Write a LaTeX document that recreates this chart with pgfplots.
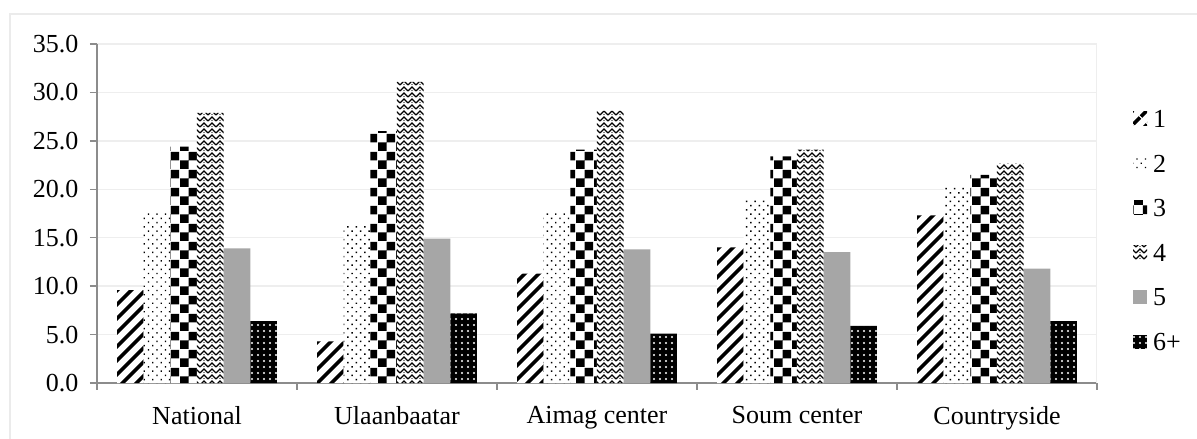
\documentclass[border=0pt]{standalone}
\usepackage{fontspec}
\setmainfont{Liberation Serif}
\usepackage{pgfplots}
\usepackage{pgfplotstable}
\pgfplotsset{compat=1.18}
\usetikzlibrary{patterns,patterns.meta}

\pgfdeclarepattern{
  name=checker,
  type=uncolored,
  bottom left={\pgfpoint{0pt}{0pt}},
  top right={\pgfpoint{18pt}{18pt}},
  tile size={\pgfpoint{18pt}{18pt}},
  code={
    \pgfpathrectangle{\pgfpoint{0pt}{0pt}}{\pgfpoint{9pt}{9pt}}
    \pgfpathrectangle{\pgfpoint{9pt}{9pt}}{\pgfpoint{9pt}{9pt}}
    \pgfusepath{fill}
  }
}
\pgfdeclarepattern{
  name=zigzag,
  type=uncolored,
  bottom left={\pgfpoint{-1pt}{-1pt}},
  top right={\pgfpoint{9pt}{7pt}},
  tile size={\pgfpoint{8pt}{6pt}},
  code={
    \pgfsetlinewidth{1.3pt}
    \pgfpathmoveto{\pgfpoint{0pt}{0pt}}
    \pgfpathlineto{\pgfpoint{4pt}{4pt}}
    \pgfpathlineto{\pgfpoint{8pt}{0pt}}
    \pgfusepath{stroke}
    \pgfpathcircle{\pgfpoint{4pt}{0.5pt}}{0.7pt}
    \pgfusepath{fill}
  }
}

\definecolor{axisgray}{HTML}{8C8C8C}
\definecolor{gridgray}{HTML}{EEEEEE}
\definecolor{framegray}{HTML}{EBEBEB}
\definecolor{barfive}{HTML}{A6A6A6}

\pgfplotstableread{
x s1 s2 s3 s4 s5 s6
0 9.6 17.6 24.4 27.9 13.9 6.4
1 4.3 16.3 26.0 31.1 14.9 7.2
2 11.3 17.5 24.1 28.1 13.8 5.1
3 14.0 19.1 23.4 24.1 13.5 5.9
4 17.3 20.4 21.5 22.7 11.8 6.4
}\datatable

\begin{document}
\begin{tikzpicture}
\useasboundingbox (-97pt,-56pt) rectangle (1100pt,383pt);
\draw[framegray, line width=1.2pt] (-87pt,-60pt) -- (-87pt,369pt) -- (1104pt,369pt);
\begin{axis}[
  scale only axis,
  width=1000pt, height=339pt,
  xmin=-0.5, xmax=4.5,
  ymin=0, ymax=35,
  ybar=0pt,
  bar width=0.1333,
  axis x line*=bottom,
  axis y line*=left,
  axis line style={axisgray, line width=1.5pt},
  tick align=outside,
  major tick length=7pt,
  tick style={axisgray, line width=1.5pt},
  ytick={0,5,...,35},
  ymajorgrids,
  grid style={gridgray, line width=1.5pt},
  xtick={-0.5,0.5,...,4.5},
  xticklabels={},
  extra x ticks={0,1,2,3,4},
  extra x tick labels={National,Ulaanbaatar,Aimag center,Soum center,Countryside},
  extra x tick style={major tick length=0pt, grid=none},
  ticklabel style={font=\fontsize{26}{31}\selectfont},
  yticklabel style={xshift=-8pt},
  xticklabel style={yshift=-20pt},
  /pgf/number format/assume math mode=true,
  yticklabel={\pgfmathprintnumber[fixed,fixed zerofill,precision=1]{\tick}},
  legend style={draw=none, fill=none, at={(1.036,0.448)}, anchor=west,
    font=\fontsize{26}{31}\selectfont, row sep=22pt, inner sep=0pt,
    /tikz/every odd column/.append style={column sep=4pt}},
  legend cell align=left,
  legend image code/.code={\path[#1,draw=none] (0pt,-6pt) rectangle (14pt,8pt);},
]
\addplot[draw=none, fill=white, postaction={pattern={Lines[angle=45,distance=10.5pt,line width=4pt]}, pattern color=black}] table[x=x,y=s1]{\datatable};
\addplot[draw=none, fill=white, postaction={pattern={Dots[radius=1pt,distance=6pt,angle=45]}, pattern color=black}] table[x=x,y=s2]{\datatable};
\addplot[draw=none, fill=white, postaction={pattern=checker, pattern color=black}] table[x=x,y=s3]{\datatable};
\addplot[draw=none, fill=white, postaction={pattern=zigzag, pattern color=black}] table[x=x,y=s4]{\datatable};
\addplot[draw=none, fill=barfive] table[x=x,y=s5]{\datatable};
\addplot[draw=none, fill=black, postaction={pattern={Dots[radius=1.1pt,distance=6pt]}, pattern color=white}] table[x=x,y=s6]{\datatable};
\legend{1,2,3,4,5,6+}
\draw[gridgray, line width=1.5pt] (rel axis cs:1,0) -- (rel axis cs:1,1);
\end{axis}
\end{tikzpicture}
\end{document}
